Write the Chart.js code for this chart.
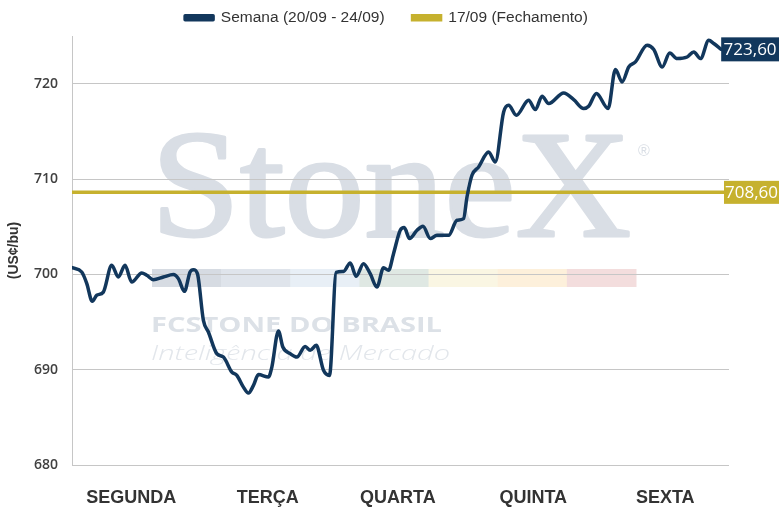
<!DOCTYPE html>
<html>
<head>
<meta charset="utf-8">
<script src="https://cdn.jsdelivr.net/npm/chart.js@4.4.1/dist/chart.umd.min.js"></script>
<style>
html,body{margin:0;padding:0;background:#fff;}
#wrap{width:780px;height:519px;position:relative;}
</style>
</head>
<body>
<div id="wrap"><canvas id="c" width="780" height="519"></canvas></div>
<script>
// Time progress across the week (0-100) and price (US¢/bu)
const weekTime = [0,1.48,2.24,3.09,3.76,4.77,6.05,7.05,8.07,9.09,10.62,11.38,12.38,13.91,15.43,16.19,17.11,17.97,18.48,19.09,
  20.0,20.76,22.04,23.05,24.33,25.09,26.09,26.85,27.62,28.38,29.90,30.42,31.42,32.09,33.21,34.23,35.49,36.25,37.17,38.28,39.19,
  40.21,41.33,42.35,43.26,44.37,45.39,46.41,47.42,48.18,48.94,49.96,50.57,51.38,52.51,53.42,54.53,55.55,57.32,58.60,59.60,
  60.12,60.88,61.89,63.41,64.43,65.70,66.46,67.63,69.50,70.53,71.55,72.55,74.84,76.36,77.88,78.64,79.82,81.60,
  82.71,83.73,84.74,85.76,87.54,88.55,89.83,90.98,92.11,93.63,94.64,95.66,96.92,97.68,98.81];
const weekPrice = [700.70,700.24,699.06,697.17,697.80,698.14,700.94,699.72,700.94,699.19,700.14,699.90,699.44,699.72,699.97,699.55,698.22,700.24,700.49,700.07,
  695.17,693.95,691.68,691.32,689.75,689.40,688.17,687.54,688.35,689.48,689.22,690.27,694.05,692.37,691.68,691.32,692.44,692.03,692.55,689.93,689.40,
  700.21,700.31,701.19,699.79,701.12,700.07,698.67,700.70,700.42,702.17,704.62,704.90,703.75,704.62,705.04,703.75,704.09,704.09,705.67,705.84,
  708.11,710.39,711.26,712.83,711.78,717.03,717.73,716.68,718.26,717.28,718.68,717.91,719.02,718.33,717.39,717.63,718.96,717.39,
  721.48,720.18,721.75,722.28,724.03,723.58,721.75,723.22,722.63,722.80,723.33,722.63,724.55,724.21,723.60];
const closeTime = [0, 100];
const closePrice = [708.60, 708.60];
const dayLabels = ['SEGUNDA','TERÇA','QUARTA','QUINTA','SEXTA'];
const dayTickPos = [9.0, 29.8, 49.6, 70.2, 90.3];
const yTicks = [680, 690, 700, 710, 720];
const seriesNames = ['Semana (20/09 - 24/09)', '17/09 (Fechamento)'];

const NAVY = '#12375c';
const GOLD = '#c6b12e';

const weekData = weekTime.map((t, i) => ({x: t, y: weekPrice[i]}));
const closeData = closeTime.map((t, i) => ({x: t, y: closePrice[i]}));

const watermark = {
  id: 'watermark',
  beforeDraw(chart) {
    const ctx = chart.ctx;
    ctx.save();
    // color strip
    const cols = ['#d6dbe2','#dfe4eb','#e8eff6','#dfe8e3','#faf6e3','#fdf0db','#f3dddd'];
    const x0 = 152, x1 = 636, w = (x1 - x0) / cols.length;
    cols.forEach((c, i) => { ctx.fillStyle = c; ctx.fillRect(x0 + i * w, 269, w + 0.5, 18); });
    // StoneX
    ctx.fillStyle = '#d9dee5';
    ctx.strokeStyle = '#d9dee5';
    ctx.lineWidth = 3;
    ctx.lineJoin = 'round';
    ctx.font = '152px "Liberation Serif", "DejaVu Serif", serif';
    ctx.textBaseline = 'alphabetic';
    const tw = ctx.measureText('StoneX').width;
    ctx.save();
    ctx.translate(151, 236);
    ctx.scale(480 / tw, 1);
    ctx.fillText('StoneX', 0, 0);
    ctx.strokeText('StoneX', 0, 0);
    ctx.restore();
    ctx.font = '16px "Liberation Sans", sans-serif';
    ctx.fillText('®', 638, 156);
    // FCSTONE DO BRASIL
    ctx.fillStyle = '#dce1e7';
    ctx.font = 'bold 22px "Open Sans", "Liberation Sans", sans-serif';
    let t2 = ctx.measureText('FCSTONE DO BRASIL').width;
    ctx.save(); ctx.translate(151, 332); ctx.scale(291 / t2, 1); ctx.fillText('FCSTONE DO BRASIL', 0, 0); ctx.restore();
    ctx.fillStyle = '#e2e6eb';
    ctx.font = 'italic 300 21px "Open Sans", "Liberation Sans", sans-serif';
    let t3 = ctx.measureText('Inteligência de Mercado').width;
    ctx.save(); ctx.translate(151, 360); ctx.scale(299 / t3, 1); ctx.fillText('Inteligência de Mercado', 0, 0); ctx.restore();
    ctx.restore();
  }
};

const endLabels = {
  id: 'endLabels',
  afterDatasetsDraw(chart) {
    const ctx = chart.ctx;
    ctx.save();
    ctx.font = '17px "Open Sans", "Liberation Sans", sans-serif';
    ctx.textBaseline = 'middle';
    ctx.textAlign = 'center';
    const right = 779;
    // navy
    const m0 = chart.getDatasetMeta(0).data;
    const p0 = m0[m0.length - 1];
    let lx = p0.x;
    ctx.fillStyle = NAVY;
    ctx.fillRect(lx, p0.y - 12, right - lx, 24);
    ctx.fillStyle = '#ffffff';
    ctx.fillText(weekPrice[weekPrice.length - 1].toFixed(2).replace('.', ','), (lx + right) / 2, p0.y + 0.5);
    // gold
    const m1 = chart.getDatasetMeta(1).data;
    const p1 = m1[m1.length - 1];
    lx = chart.chartArea.right - 5;
    ctx.fillStyle = GOLD;
    ctx.fillRect(lx, p1.y - 11.5, right - lx, 23);
    ctx.fillStyle = '#ffffff';
    ctx.fillText(closePrice[1].toFixed(2).replace('.', ','), (lx + right) / 2, p1.y + 0.5);
    ctx.restore();
  }
};

const legendHeight = {
  id: 'legendHeight',
  afterInit(chart) {
    const lg = chart.legend;
    if (!lg) return;
    const orig = lg.fit;
    lg.fit = function () { orig.call(this); this.height = 54; };
    const origDraw = lg.draw;
    lg.draw = function () {
      const ctx = this.ctx;
      ctx.save();
      ctx.translate(22, 0);
      origDraw.call(this);
      ctx.restore();
    };
  }
};

new Chart(document.getElementById('c'), {
  type: 'line',
  data: {
    datasets: [
      { label: seriesNames[0], data: weekData, borderColor: NAVY, backgroundColor: NAVY, borderWidth: 3.5,
        pointRadius: 0, cubicInterpolationMode: 'monotone', borderCapStyle: 'round', borderJoinStyle: 'round' },
      { label: seriesNames[1], data: closeData, borderColor: GOLD, backgroundColor: GOLD, borderWidth: 3.5,
        pointRadius: 0 }
    ]
  },
  options: {
    responsive: false,
    animation: false,
    devicePixelRatio: 1,
    layout: { padding: { left: 0, right: 51, top: -18, bottom: 0 } },
    plugins: {
      legend: {
        position: 'top',
        labels: {
          boxWidth: 28, boxHeight: 4, padding: 28,
          color: '#333333',
          font: { family: '"Liberation Sans", Arial, sans-serif', size: 15.5 }
        }
      },
      tooltip: { enabled: false }
    },
    scales: {
      x: {
        type: 'linear', min: 0, max: 100,
        grid: { display: false, drawTicks: false },
        border: { display: false },
        afterBuildTicks(scale) { scale.ticks = dayTickPos.map(v => ({ value: v })); },
        afterFit(scale) { scale.height = 54; },
        ticks: {
          padding: 22, maxRotation: 0, autoSkip: false,
          color: '#333333',
          font: { family: '"Liberation Sans", Arial, sans-serif', size: 18, weight: 'bold' },
          callback: (v, i) => dayLabels[i]
        }
      },
      y: {
        min: 680, max: 725,
        afterBuildTicks(scale) { scale.ticks = yTicks.map(v => ({ value: v })); },
        afterFit(scale) { scale.width = 72; },
        grid: { color: '#c6c6c6', lineWidth: 1, drawTicks: false },
        border: { display: true, color: '#c6c6c6', width: 1 },
        ticks: {
          padding: 14, color: '#404040',
          font: { family: '"Open Sans", "Liberation Sans", sans-serif', size: 14, weight: '600' }
        },
        title: {
          display: true, text: '(US¢/bu)', color: '#333333', padding: { top: 6, bottom: 0 },
          font: { family: '"Liberation Sans", Arial, sans-serif', size: 14, weight: 'bold' }
        }
      }
    }
  },
  plugins: [watermark, endLabels, legendHeight]
});
</script>
</body>
</html>
